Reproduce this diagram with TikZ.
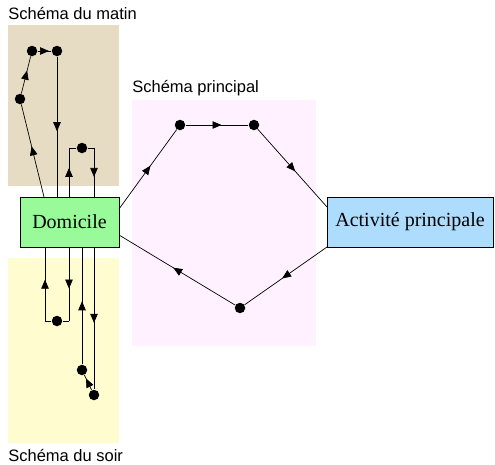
\documentclass[tikz,border=0pt]{standalone}
\usepackage{fontspec}
\setmainfont{Liberation Serif}
\setsansfont{Liberation Sans}
\usepackage{tikz}
\usetikzlibrary{arrows}
\usetikzlibrary{arrows.meta}
\usetikzlibrary{decorations.markings}
\definecolor{matinbg}{RGB}{229,220,195}
\definecolor{soirbg}{RGB}{255,253,208}
\definecolor{princbg}{RGB}{255,241,255}
\definecolor{domfill}{RGB}{153,250,153}
\definecolor{actfill}{RGB}{173,220,252}
\tikzstyle{schema}=[x=1pt, y=-1pt, line width=0.7pt, font=\sffamily\fontsize{16.5}{19}\selectfont]
\tikzstyle{title}=[anchor=base west, inner sep=0pt]
\tikzstyle{lieu}=[rectangle, draw=black, thin, inner sep=0pt, font=\rmfamily\fontsize{20}{24}\selectfont, minimum height=50pt]
\tikzstyle{stop}=[circle, fill=black, inner sep=0pt, minimum size=10.5pt]
\tikzstyle{edge}=[draw=black, postaction={decorate}, decoration={markings, mark=at position 0.5 with {\arrow[xshift=4.5pt]{Triangle[length=9pt,width=7.5pt]}}}]
\tikzstyle{link}=[draw=black]

\begin{document}
\begin{tikzpicture}[schema]
\useasboundingbox (0,0) rectangle (495,464);

%the three coloured zones
\fill[matinbg] (8,25) rectangle (119,186);
\fill[soirbg] (8,258) rectangle (119,443);
\fill[princbg] (132,100) rectangle (316,346);
\node[title] (tmat) at (8,19) {Schéma du matin};
\node[title] (tprinc) at (132,92) {Schéma principal};
\node[title] (tsoir) at (8,461) {Schéma du soir};

\node[lieu, fill=domfill, minimum width=99pt] (dom) at (69.5,222) {Domicile};
\node[lieu, fill=actfill, minimum width=166pt] (act) at (410,222) {Activité principale};

%main loop
\node[stop] (p1) at (180,125) {};
\node[stop] (p2) at (254,125) {};
\node[stop] (p3) at (240,308) {};
\coordinate (dout) at (119,209);
\coordinate (din) at (119,235);
\coordinate (ain) at (327,207);
\coordinate (aout) at (327,247);
\draw[edge] (dout) -- (p1);
\draw[edge] (p1) -- (p2);
\draw[edge] (p2) -- (ain);
\draw[edge] (aout) -- (p3);
\draw[edge] (p3) -- (din);

%morning
\node[stop] (m1) at (20,99) {};
\node[stop] (m2) at (32,51) {};
\node[stop] (m3) at (57,51) {};
\node[stop] (m4) at (82,148) {};
\coordinate (dm1) at (44,197);
\coordinate (mc1) at (69,148);
\coordinate (mc2) at (94,148);
\draw[edge] (dm1) -- (m1);
\draw[edge] (m1) -- (m2);
\draw[edge] (m2) -- (m3);
\draw[edge] (m3) -- (m3 |- dom.north);
\draw[edge] (mc1 |- dom.north) -- (mc1);
\draw[link] (mc1) -- (m4) -- (mc2);
\draw[edge] (mc2) -- (mc2 |- dom.north);

%evening
\node[stop] (e1) at (57,321) {};
\node[stop] (e2) at (82,370) {};
\node[stop] (e3) at (94,395) {};
\coordinate (ec1) at (69,321);
\coordinate (ec2) at (45,321);
\draw[edge] (ec1 |- dom.south) -- (ec1);
\draw[link] (ec1) -- (e1) -- (ec2);
\draw[edge] (ec2) -- (ec2 |- dom.south);
\draw[edge] (e3 |- dom.south) -- (e3);
\draw[edge] (e3) -- (e2);
\draw[edge] (e2) -- (e2 |- dom.south);
\end{tikzpicture}
\end{document}
